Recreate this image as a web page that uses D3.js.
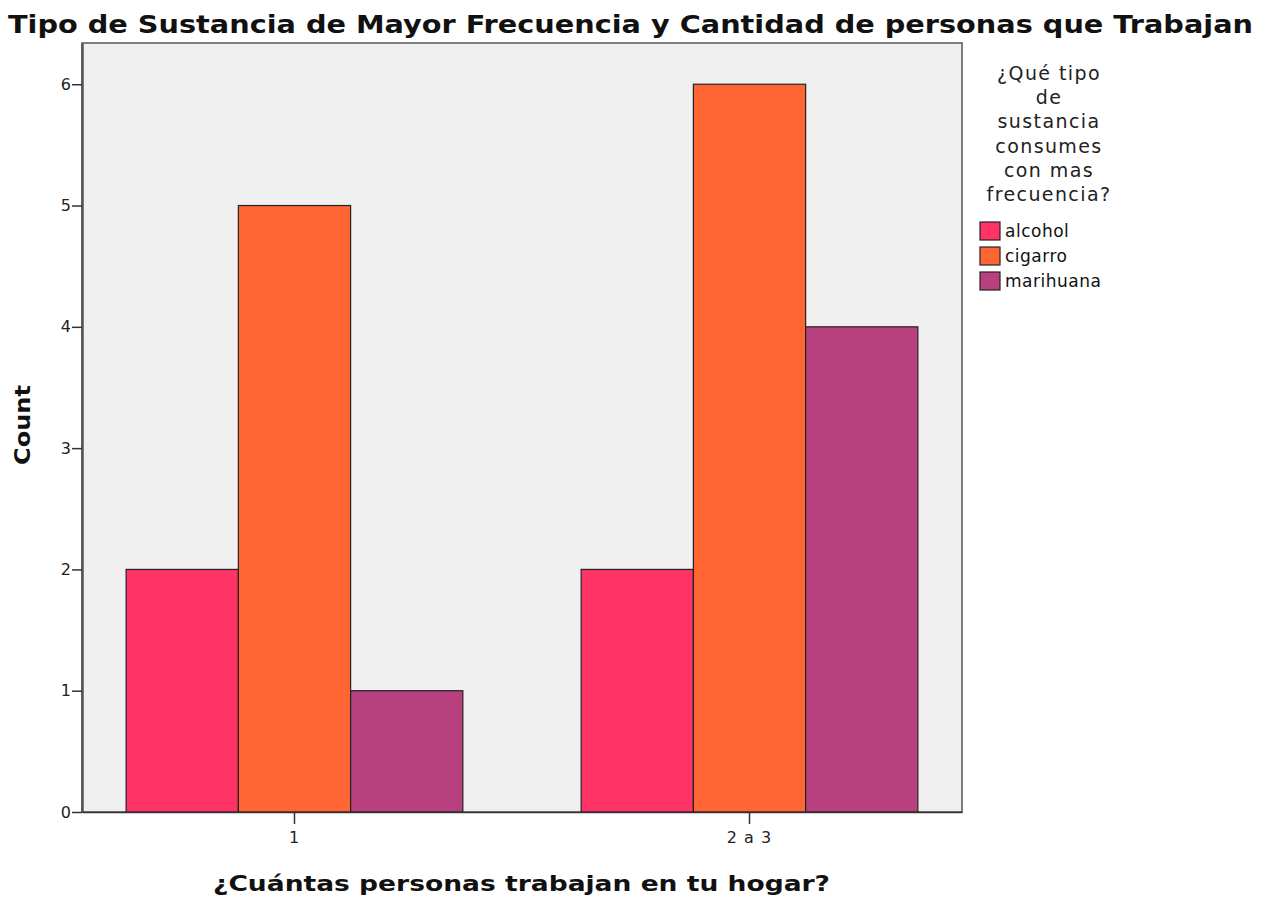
<!DOCTYPE html>
<html>
<head>
<meta charset="utf-8">
<script src="https://cdn.jsdelivr.net/npm/d3@7"></script>
<style>
  body { margin: 0; background: #fff; }
  text { font-family: "DejaVu Sans", "Liberation Sans", Arial, sans-serif; }
</style>
</head>
<body>
<div id="chart"></div>
<script>
const groups = ["1", "2 a 3"];
const substances = ["alcohol", "cigarro", "marihuana"];
const alcohol = [2, 2];
const cigarro = [5, 6];
const marihuana = [1, 4];
const yTicks = [0, 1, 2, 3, 4, 5, 6];
const colors = ["#ff3366", "#ff6633", "#b9407f"];

const width = 1271, height = 899;
const margin = { left: 82, right: 309, top: 43, bottom: 87 };

const svg = d3.select("#chart").append("svg")
    .attr("width", width)
    .attr("height", height);

const x0 = d3.scaleBand()
    .domain(groups)
    .range([margin.left, width - margin.right])
    .paddingInner(0.26)
    .paddingOuter(0.097);

const x1 = d3.scaleBand()
    .domain(substances)
    .range([0, x0.bandwidth()]);

const y = d3.scaleLinear()
    .domain([0, 6.34])
    .range([height - margin.bottom, margin.top]);

const color = d3.scaleOrdinal().domain(substances).range(colors);

// plot background
svg.append("rect")
    .attr("x", margin.left)
    .attr("y", margin.top)
    .attr("width", width - margin.right - margin.left)
    .attr("height", height - margin.bottom - margin.top)
    .attr("fill", "#f0f0f0")
    .attr("stroke", "#555")
    .attr("stroke-width", 1.5);

const rows = groups.map((g, i) => ({
    group: g,
    values: [alcohol[i], cigarro[i], marihuana[i]].map((v, j) => ({ key: substances[j], value: v }))
}));

svg.append("g")
    .selectAll("g")
    .data(rows)
    .enter().append("g")
    .attr("transform", d => "translate(" + x0(d.group) + ",0)")
    .selectAll("rect")
    .data(d => d.values)
    .enter().append("rect")
    .attr("x", d => x1(d.key))
    .attr("y", d => y(d.value))
    .attr("width", x1.bandwidth())
    .attr("height", d => y(0) - y(d.value))
    .attr("fill", d => color(d.key))
    .attr("stroke", "#222")
    .attr("stroke-width", 1.2);

// y axis
const yAxis = svg.append("g")
    .attr("transform", "translate(" + margin.left + ",0)")
    .call(d3.axisLeft(y).tickValues(yTicks).tickSize(10).tickSizeOuter(0).tickFormat(d3.format("d")));
yAxis.select(".domain").attr("stroke", "#555").attr("stroke-width", 2.5);
yAxis.selectAll(".tick line").attr("stroke", "#333").attr("stroke-width", 1.5);
yAxis.selectAll("text")
    .style("font-size", "16px")
    .attr("fill", "#222")
    .attr("x", -11);

// x axis
const xAxis = svg.append("g")
    .attr("transform", "translate(0," + (height - margin.bottom) + ")")
    .call(d3.axisBottom(x0).tickSize(12).tickSizeOuter(0));
xAxis.select(".domain").attr("stroke", "#333").attr("stroke-width", 1.5);
xAxis.selectAll(".tick line").attr("stroke", "#333").attr("stroke-width", 1.5);
xAxis.selectAll("text")
    .style("font-size", "16px")
    .attr("letter-spacing", 1)
    .attr("fill", "#222")
    .attr("y", 20);

// title
svg.append("text")
    .attr("x", 8)
    .attr("y", 33)
    .attr("font-size", 25)
    .attr("font-weight", "bold")
    .attr("fill", "#111")
    .attr("textLength", 1245)
    .attr("lengthAdjust", "spacingAndGlyphs")
    .text("Tipo de Sustancia de Mayor Frecuencia y Cantidad de personas que Trabajan");

// axis labels
svg.append("text")
    .attr("x", 213)
    .attr("y", 891)
    .attr("font-size", 21)
    .attr("font-weight", "bold")
    .attr("fill", "#111")
    .attr("textLength", 617)
    .attr("lengthAdjust", "spacingAndGlyphs")
    .text("¿Cuántas personas trabajan en tu hogar?");

svg.append("text")
    .attr("transform", "translate(30,465) rotate(-90)")
    .attr("font-size", 21)
    .attr("font-weight", "bold")
    .attr("fill", "#111")
    .attr("textLength", 80)
    .attr("lengthAdjust", "spacingAndGlyphs")
    .text("Count");

// legend
const legendTitle = ["¿Qué tipo", "de", "sustancia", "consumes", "con mas", "frecuencia?"];
const legend = svg.append("g");
legend.selectAll(".lt")
    .data(legendTitle)
    .enter().append("text")
    .attr("x", 1049)
    .attr("y", (d, i) => 80 + i * 24.2)
    .attr("text-anchor", "middle")
    .attr("font-size", 19)
    .attr("letter-spacing", 1.4)
    .attr("fill", "#222")
    .text(d => d);

const items = legend.selectAll(".li")
    .data(substances)
    .enter().append("g")
    .attr("transform", (d, i) => "translate(980," + (222 + i * 25) + ")");
items.append("rect")
    .attr("width", 20)
    .attr("height", 18)
    .attr("fill", d => color(d))
    .attr("stroke", "#222")
    .attr("stroke-width", 1.2);
items.append("text")
    .attr("x", 25)
    .attr("y", 15)
    .attr("font-size", 17)
    .attr("letter-spacing", 0.5)
    .attr("fill", "#111")
    .text(d => d);
</script>
</body>
</html>
